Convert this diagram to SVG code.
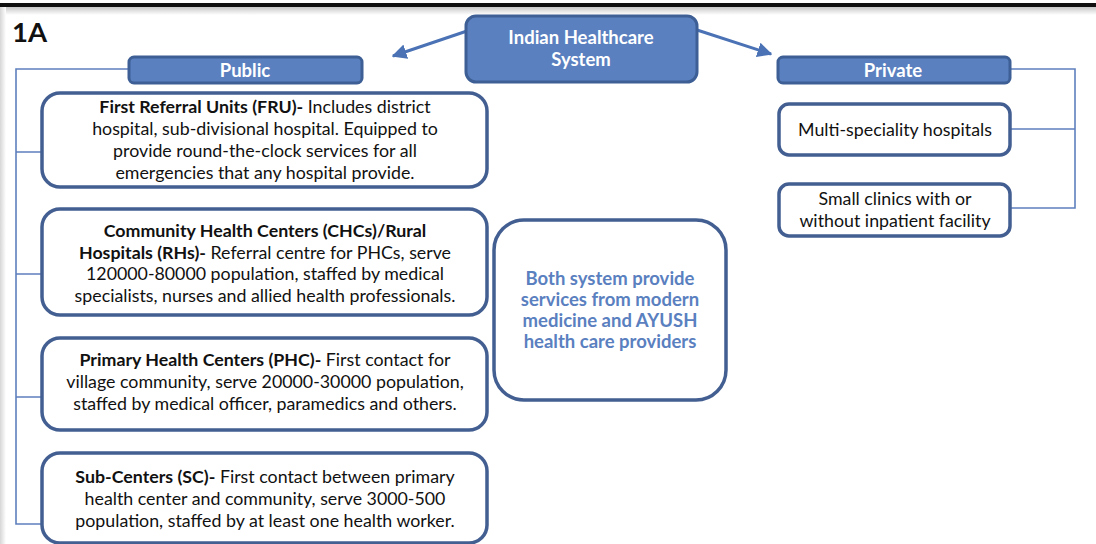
<svg xmlns="http://www.w3.org/2000/svg" width="1096" height="544" viewBox="0 0 1096 544">
  <defs>
    <linearGradient id="topShade" x1="0" y1="0" x2="0" y2="1">
      <stop offset="0" stop-color="#c8c8c8"/>
      <stop offset="1" stop-color="#ffffff"/>
    </linearGradient>
    <linearGradient id="leftShade" x1="0" y1="0" x2="1" y2="0">
      <stop offset="0" stop-color="#d6d6d6"/>
      <stop offset="1" stop-color="#ffffff"/>
    </linearGradient>
    <marker id="arrow" viewBox="0 0 10 10" refX="9" refY="5" markerWidth="5" markerHeight="5" orient="auto" markerUnits="strokeWidth">
      <path d="M0,0 L10,5 L0,10 z" fill="#4a72b5"/>
    </marker>
    <style>
      .head { fill: #5a80bf; stroke: #3d5f95; stroke-width: 3; }
      .card { fill: #ffffff; stroke: #435f92; stroke-width: 3.5; }
      .wire { fill: none; stroke: #5e7fbd; stroke-width: 1.6; }
      .arrow { fill: none; stroke: #4a72b5; stroke-width: 3; marker-end: url(#arrow); }
      text { font-family: Lato, "Open Sans", "Liberation Sans", sans-serif; }
      .htxt { fill: #ffffff; font-weight: 700; font-size: 18.5px; text-anchor: middle; }
      .body { fill: #111111; font-size: 17.8px; text-anchor: middle; }
      .b { font-weight: 700; }
      .note { fill: #5a80bf; font-weight: 700; font-size: 18.5px; text-anchor: middle; }
    </style>
  </defs>

  <!-- page frame -->
  <rect x="0" y="0" width="1096" height="544" fill="#ffffff"/>
  <rect x="0" y="7" width="1096" height="8" fill="url(#topShade)"/>
  <rect x="0" y="7" width="6" height="537" fill="url(#leftShade)"/>
  <rect x="0" y="3" width="1096" height="4" fill="#111111"/>

  <text x="12" y="42" font-weight="700" font-size="27.5" fill="#111111">1A</text>

  <!-- connectors -->
  <g id="connectors">
    <line class="arrow" x1="467" y1="31" x2="393" y2="56"/>
    <line class="arrow" x1="697" y1="30" x2="771" y2="54"/>
    <path class="wire" d="M128,69 H16 V524 H42 M16,152 H42 M16,274 H42 M16,397 H42"/>
    <path class="wire" d="M1010,69 H1075 V208 H1011 M1011,129 H1075"/>
  </g>

  <g id="root">
    <rect class="head" x="466" y="16" width="231" height="66" rx="10"/>
    <text class="htxt" x="581" y="44">Indian Healthcare</text>
    <text class="htxt" x="581" y="66">System</text>
  </g>

  <g id="public">
    <rect class="head" x="129" y="57" width="233" height="26" rx="5"/>
    <text class="htxt" x="245" y="77">Public</text>
  </g>

  <g id="private">
    <rect class="head" x="778" y="57" width="232" height="26" rx="5"/>
    <text class="htxt" x="893" y="77">Private</text>
  </g>

  <g id="fru">
    <rect class="card" x="42" y="93" width="445" height="94" rx="18"/>
    <text class="body" x="265" y="113"><tspan class="b">First Referral Units (FRU)-</tspan> Includes district</text>
    <text class="body" x="265" y="135">hospital, sub-divisional hospital. Equipped to</text>
    <text class="body" x="265" y="157">provide round-the-clock services for all</text>
    <text class="body" x="265" y="179">emergencies that any hospital provide.</text>
  </g>

  <g id="chc">
    <rect class="card" x="42" y="209" width="445" height="106" rx="18"/>
    <text class="body" x="265" y="237"><tspan class="b">Community Health Centers (CHCs)/Rural</tspan></text>
    <text class="body" x="265" y="259"><tspan class="b">Hospitals (RHs)-</tspan> Referral centre for PHCs, serve</text>
    <text class="body" x="265" y="280">120000-80000 population, staffed by  medical</text>
    <text class="body" x="265" y="302">specialists, nurses and allied health professionals.</text>
  </g>

  <g id="phc">
    <rect class="card" x="42" y="338" width="445" height="92" rx="18"/>
    <text class="body" x="265" y="366"><tspan class="b">Primary Health Centers (PHC)-</tspan> First contact for</text>
    <text class="body" x="265" y="388">village community, serve 20000-30000 population,</text>
    <text class="body" x="265" y="410">staffed by medical officer, paramedics and others.</text>
  </g>

  <g id="sc">
    <rect class="card" x="42" y="453" width="445" height="90" rx="18"/>
    <text class="body" x="265" y="483"><tspan class="b">Sub-Centers (SC)-</tspan> First contact between primary</text>
    <text class="body" x="265" y="505">health center and community, serve 3000-500</text>
    <text class="body" x="265" y="527">population, staffed by at least one health worker.</text>
  </g>

  <g id="both">
    <rect class="card" x="494" y="220" width="232" height="180" rx="30"/>
    <text class="note" x="610" y="285">Both system provide</text>
    <text class="note" x="610" y="306">services from modern</text>
    <text class="note" x="610" y="327">medicine and AYUSH</text>
    <text class="note" x="610" y="348">health care providers</text>
  </g>

  <g id="multi">
    <rect class="card" x="779" y="104" width="231" height="51" rx="10"/>
    <text class="body" x="895" y="136">Multi-speciality hospitals</text>
  </g>

  <g id="clinics">
    <rect class="card" x="779" y="184" width="231" height="52" rx="10"/>
    <text class="body" x="895" y="205">Small clinics with or</text>
    <text class="body" x="895" y="227">without inpatient facility</text>
  </g>
</svg>
